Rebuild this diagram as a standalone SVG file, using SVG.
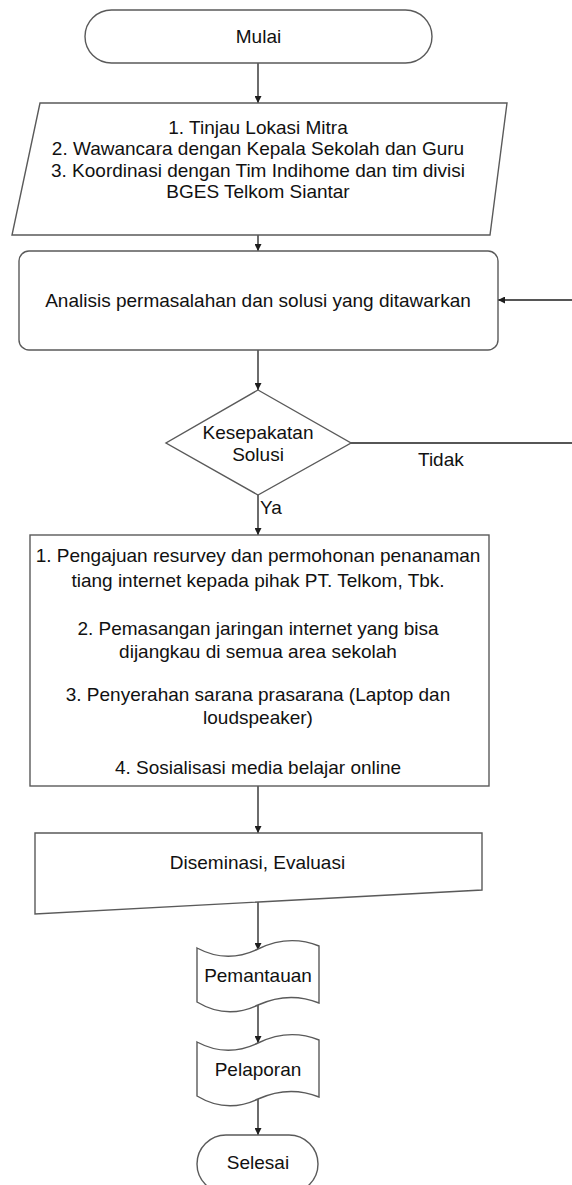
<svg xmlns="http://www.w3.org/2000/svg" width="572" height="1185" viewBox="0 0 572 1185">
<defs>
<style>
.s{fill:#fff;stroke:#5a5a5a;stroke-width:1.4}
.c{fill:none;stroke:#1e1e1e;stroke-width:1.3}
text{font-family:"Liberation Sans",Arial,sans-serif;font-size:19px;fill:#111;text-anchor:middle}
.l{text-anchor:start}
</style>
<marker id="ah" viewBox="0 0 10 10" refX="10" refY="5" markerWidth="7" markerHeight="7" orient="auto" markerUnits="userSpaceOnUse">
<path d="M0,0 L10,5 L0,10 Z" fill="#1e1e1e"/>
</marker>
</defs>
<rect width="572" height="1185" fill="#fff"/>
<g id="connectors">
<line class="c" x1="258" y1="63" x2="258" y2="103" marker-end="url(#ah)"/>
<line class="c" x1="258" y1="235" x2="258" y2="251" marker-end="url(#ah)"/>
<line class="c" x1="258" y1="350" x2="258" y2="390" marker-end="url(#ah)"/>
<line class="c" x1="572" y1="300" x2="498" y2="300" marker-end="url(#ah)"/>
<line class="c" x1="351" y1="443" x2="572" y2="443"/>
<line class="c" x1="258" y1="495" x2="258" y2="535" marker-end="url(#ah)"/>
<line class="c" x1="258" y1="786" x2="258" y2="833" marker-end="url(#ah)"/>
<line class="c" x1="258" y1="900" x2="258" y2="950" marker-end="url(#ah)"/>
<line class="c" x1="258" y1="1005" x2="258" y2="1043" marker-end="url(#ah)"/>
<line class="c" x1="258" y1="1099" x2="258" y2="1135" marker-end="url(#ah)"/>
<text class="l" x="418" y="466">Tidak</text>
<text class="l" x="260" y="514">Ya</text>
</g>
<g id="mulai">
<rect class="s" x="85" y="10" width="347" height="53" rx="26.5"/>
<text x="258.5" y="43">Mulai</text>
</g>
<g id="input">
<polygon class="s" points="40,103 507,103 490,235 12,235"/>
<text x="258" y="134">1. Tinjau Lokasi Mitra</text>
<text x="258" y="155">2. Wawancara dengan Kepala Sekolah dan Guru</text>
<text x="258" y="177">3. Koordinasi dengan Tim Indihome dan tim divisi</text>
<text x="258" y="198">BGES Telkom Siantar</text>
</g>
<g id="analisis">
<rect class="s" x="19" y="251" width="479" height="99" rx="10"/>
<text x="258" y="307">Analisis permasalahan dan solusi yang ditawarkan</text>
</g>
<g id="keputusan">
<polygon class="s" points="258,390 351,443 258,495 166,443"/>
<text x="258" y="439">Kesepakatan</text>
<text x="258" y="461">Solusi</text>
</g>
<g id="proses">
<rect class="s" x="30" y="535" width="459" height="251"/>
<text x="258" y="562">1. Pengajuan resurvey dan permohonan penanaman</text>
<text x="258" y="587">tiang internet kepada pihak PT. Telkom, Tbk.</text>
<text x="258" y="635">2. Pemasangan jaringan internet yang bisa</text>
<text x="258" y="658">dijangkau di semua area sekolah</text>
<text x="258" y="701">3. Penyerahan sarana prasarana (Laptop dan</text>
<text x="258" y="724">loudspeaker)</text>
<text x="258" y="774">4. Sosialisasi media belajar online</text>
</g>
<g id="diseminasi">
<polygon class="s" points="35,833 482,833 482,890 35,914"/>
<text x="257.5" y="869">Diseminasi, Evaluasi</text>
</g>
<g id="pemantauan">
<path class="s" d="M197,948 Q227,964 258,949 T319,946 L319,1003 Q289,991 258,1005 Q227,1020 197,1002 Z"/>
<text x="258" y="982">Pemantauan</text>
</g>
<g id="pelaporan">
<path class="s" d="M197,1042 Q227,1058 258,1043 T319,1040 L319,1097 Q289,1085 258,1099 Q227,1114 197,1096 Z"/>
<text x="258" y="1076">Pelaporan</text>
</g>
<g id="selesai">
<rect class="s" x="197" y="1135" width="121" height="58" rx="29"/>
<text x="258" y="1169">Selesai</text>
</g>
</svg>
